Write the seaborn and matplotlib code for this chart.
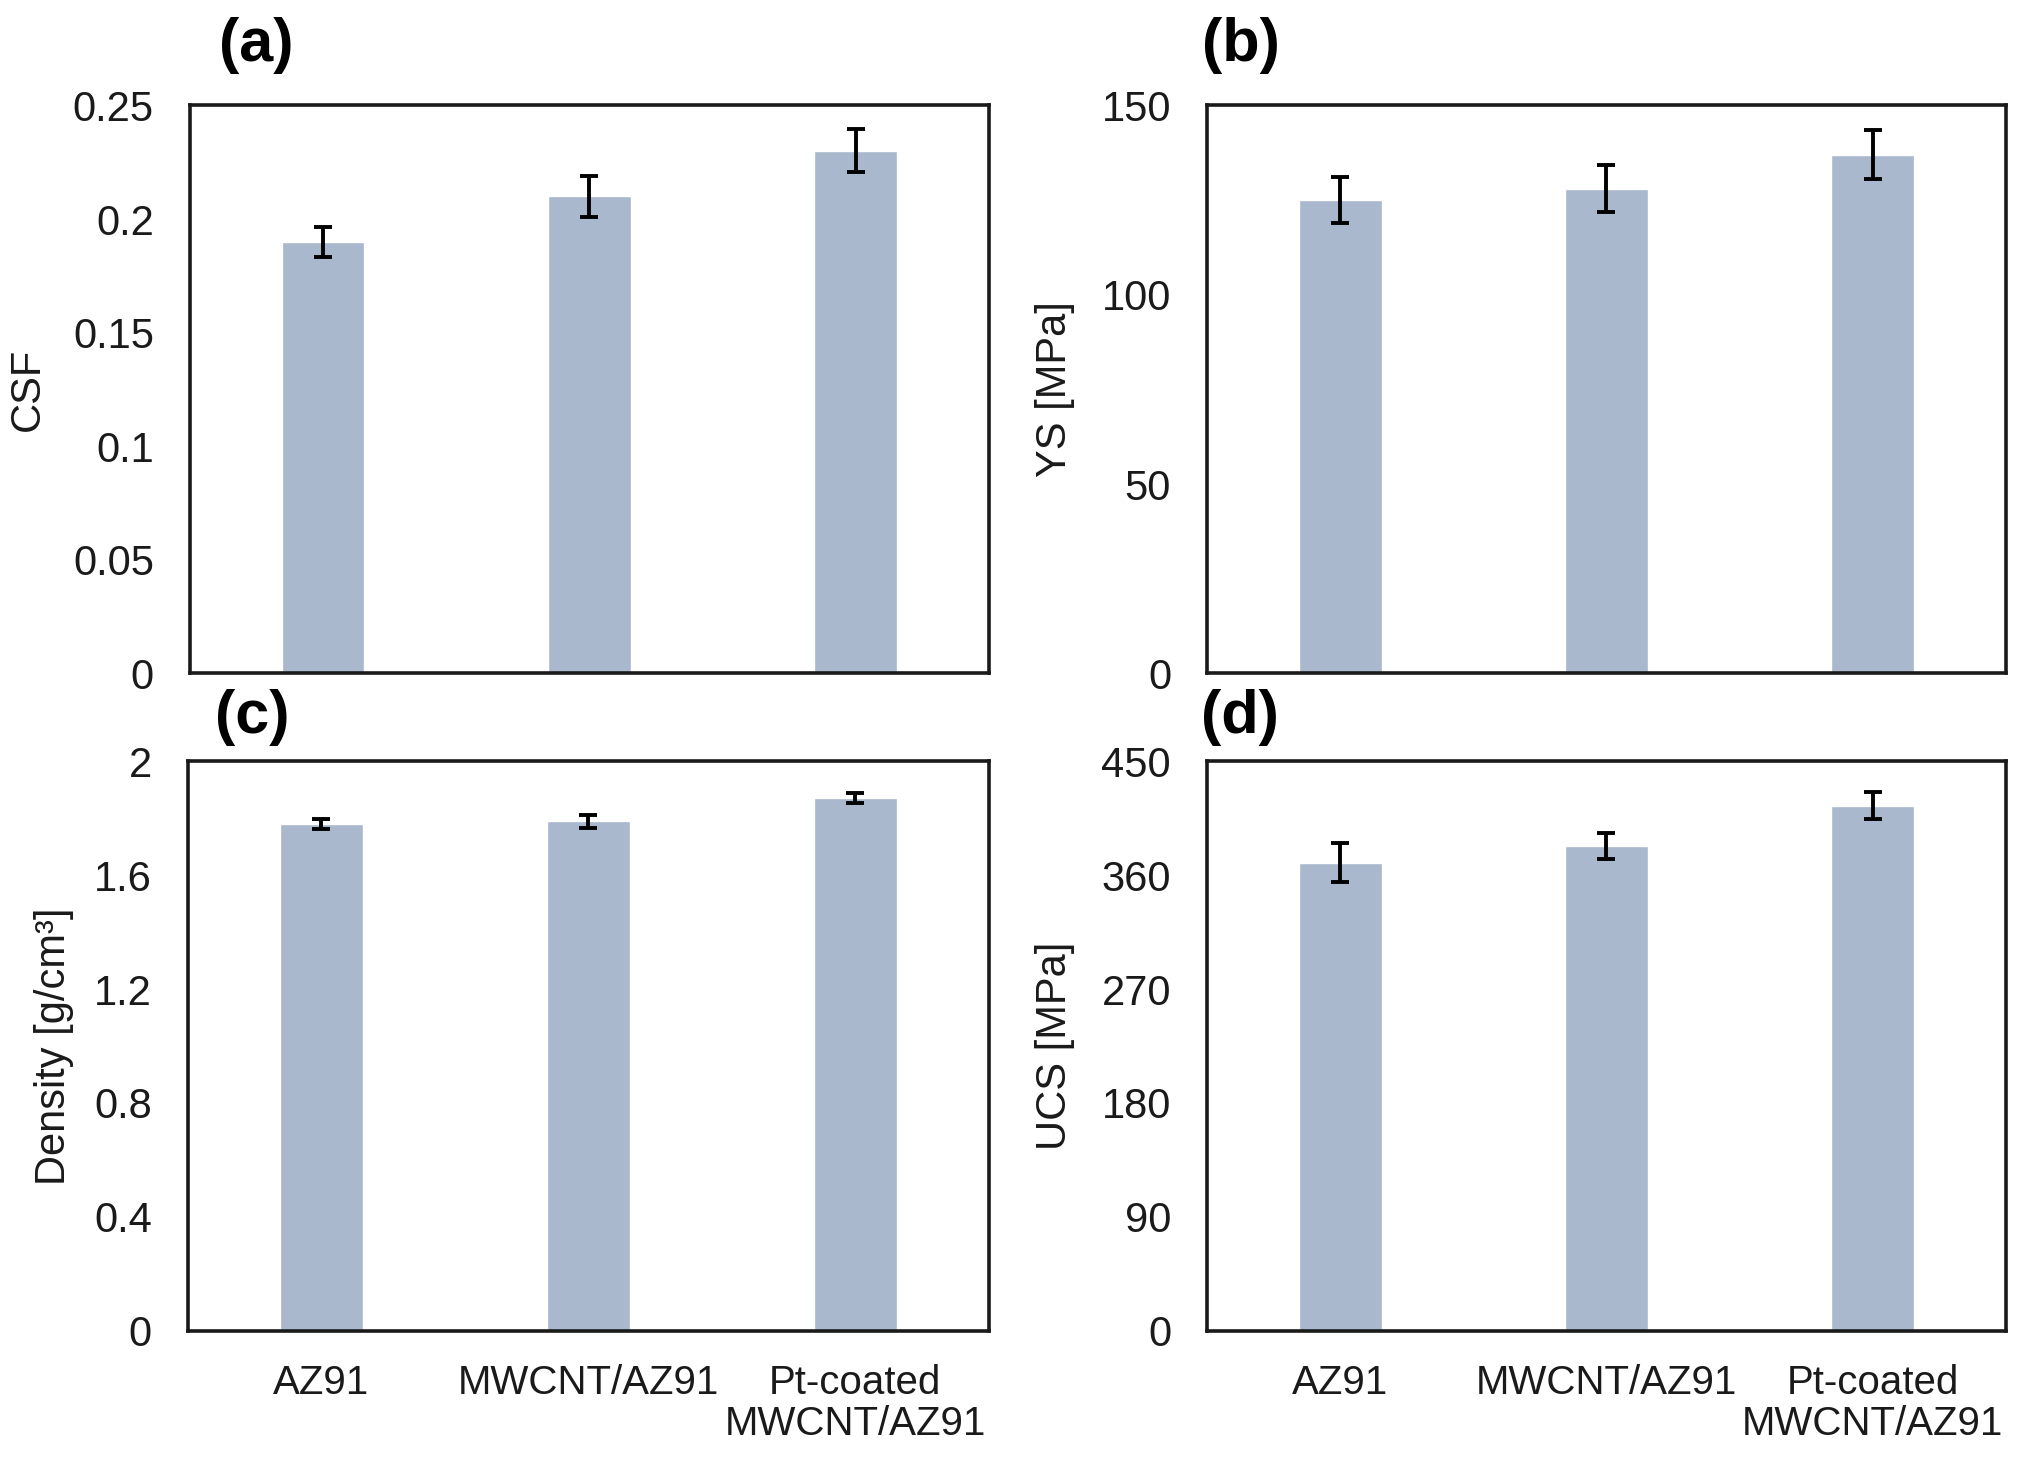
import matplotlib
matplotlib.use('Agg')
import matplotlib.pyplot as plt
import seaborn as sns
import pandas as pd
from matplotlib.ticker import FuncFormatter

# values
categories = ['AZ91', 'MWCNT/AZ91', 'Pt-coated\nMWCNT/AZ91']
csf = [0.19, 0.21, 0.23]
csf_err = [0.0065, 0.009, 0.0095]
ys = [125, 128, 137]
ys_err = [6, 6.2, 6.5]
density = [1.78, 1.79, 1.87]
density_err = [0.019, 0.023, 0.018]
ucs = [370, 383, 415]
ucs_err = [15.5, 10.5, 11]

panels = [
    ('(a)', csf, csf_err, 'CSF', [0, 0.05, 0.1, 0.15, 0.2, 0.25]),
    ('(b)', ys, ys_err, 'YS [MPa]', [0, 50, 100, 150]),
    ('(c)', density, density_err, 'Density [g/cm³]', [0, 0.4, 0.8, 1.2, 1.6, 2]),
    ('(d)', ucs, ucs_err, 'UCS [MPa]', [0, 90, 180, 270, 360, 450]),
]

sns.set_style('white')
plt.rcParams['font.family'] = ['Liberation Sans', 'DejaVu Sans']
text_color = '#1a1a1a'
bar_color = '#a9b8cc'

fig = plt.figure(figsize=(20.22, 14.64), dpi=100)
positions = [
    [0.094, 0.540, 0.395, 0.388],
    [0.597, 0.540, 0.395, 0.388],
    [0.093, 0.091, 0.396, 0.389],
    [0.597, 0.091, 0.395, 0.389],
]
label_x = [-0.178, -0.165, -0.1425, -0.165]
panel_pos = [(0.1266, 0.969), (0.6137, 0.969), (0.125, 0.510), (0.613, 0.510)]

for i, (tag, vals, errs, ylab, yticks) in enumerate(panels):
    ax = fig.add_axes(positions[i])
    df = pd.DataFrame({'group': categories, 'value': vals})
    sns.barplot(data=df, x='group', y='value', color=bar_color, width=0.31,
                errorbar=None, saturation=1, ax=ax)
    xs = [p.get_x() + p.get_width() / 2 for p in ax.patches]
    ax.errorbar(xs, vals, yerr=errs, fmt='none', ecolor='black',
                elinewidth=2.8, capsize=6.5, capthick=2.8, zorder=3)
    ax.set_xlim(-0.5, 2.5)
    ax.set_ylim(yticks[0], yticks[-1])
    ax.set_yticks(yticks)
    ax.yaxis.set_major_formatter(FuncFormatter(lambda v, pos: '{:g}'.format(v)))
    ax.tick_params(axis='y', direction='in', length=7, width=1.5, pad=26,
                   labelsize=30, colors=text_color)
    ax.tick_params(axis='x', length=0, pad=24, labelsize=29, colors=text_color)
    if i < 2:
        ax.set_xticklabels([])
    else:
        for t in ax.get_xticklabels():
            t.set_linespacing(1.1)
    ax.set_xlabel('')
    ax.set_ylabel(ylab, fontsize=30, color=text_color)
    ax.yaxis.set_label_coords(label_x[i], 0.5)
    for s in ax.spines.values():
        s.set_visible(True)
        s.set_linewidth(2.6)
        s.set_color(text_color)
    fig.text(panel_pos[i][0], panel_pos[i][1], tag, fontsize=44, fontweight='bold',
             ha='center', va='center', color='black')

fig.savefig('out.png', dpi=100, facecolor='white')
